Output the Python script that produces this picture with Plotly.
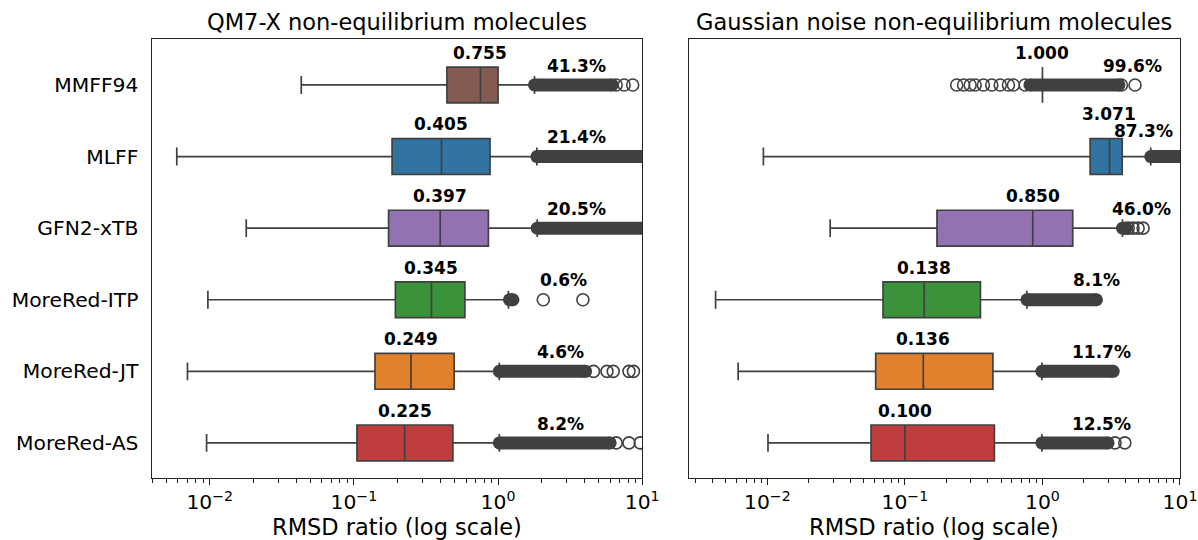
import math
import plotly.graph_objects as go

# ---------------- data ----------------
methods = ["MMFF94", "MLFF", "GFN2-xTB", "MoreRed-ITP", "MoreRed-JT", "MoreRed-AS"]
colors = ["#845b53", "#3274a1", "#9372b2", "#3a923a", "#e1812c", "#c03d3e"]

# QM7-X panel (left)
qm_low = [0.0431, 0.0059, 0.0179, 0.0097, 0.0070, 0.0095]
qm_q1 = [0.442, 0.184, 0.174, 0.194, 0.140, 0.105]
qm_med = [0.755, 0.405, 0.397, 0.345, 0.249, 0.225]
qm_q3 = [1.00, 0.88, 0.857, 0.589, 0.496, 0.486]
qm_high = [1.79, 1.86, 1.87, 1.18, 1.02, 1.02]
qm_pct = ["41.3%", "21.4%", "20.5%", "0.6%", "4.6%", "8.2%"]
qm_dense_lo = [1.79, 1.86, 1.87, 1.20, 1.02, 1.02]
qm_dense_hi = [6.2, 12.0, 12.0, 1.27, 4.05, 6.0]
qm_sparse = [
    [6.6, 7.5, 8.6],
    [],
    [],
    [2.06, 3.88],
    [4.6, 5.7, 6.3, 8.1, 8.7],
    [6.6, 8.1, 9.7],
]

# Gaussian noise panel (right)
gn_low = [1.0, 0.00935, 0.0286, 0.0042, 0.00613, 0.0101]
gn_q1 = [1.0, 2.22, 0.171, 0.0693, 0.0613, 0.0567]
gn_med = [1.000, 3.071, 0.850, 0.138, 0.136, 0.100]
gn_q3 = [1.0, 3.80, 1.66, 0.354, 0.436, 0.447]
gn_high = [1.0, 6.13, 3.82, 0.77, 0.99, 0.99]
gn_pct = ["99.6%", "87.3%", "46.0%", "8.1%", "11.7%", "12.5%"]
gn_dense_lo = [0.81, 6.13, 3.82, 0.77, 0.99, 0.99]
gn_dense_hi = [3.6, 12.0, 4.05, 2.47, 3.27, 3.0]
gn_sparse = [
    [0.238, 0.267, 0.298, 0.324, 0.372, 0.428, 0.493, 0.566, 0.615, 0.748, 3.75, 4.71],
    [],
    [4.2, 4.56, 4.96, 5.39],
    [],
    [],
    [3.37, 3.97],
]

# label anchor positions (x values where the percentage labels sit)
qm_pct_x = [3.48, 3.52, 3.52, 2.86, 2.73, 2.73]
gn_pct_x = [4.51, 5.42, 5.24, 2.47, 2.69, 2.69]

xticks = [0.01, 0.1, 1, 10]
xticktext = ["10<sup>\u22122</sup>", "10<sup>\u22121</sup>", "10<sup>0</sup>", "10<sup>1</sup>"]
xtitle = "RMSD ratio (log scale)"
titles = ["QM7-X non-equilibrium molecules", "Gaussian noise non-equilibrium molecules"]

# ---------------- figure ----------------
FONT = "DejaVu Sans"
EDGE = "#404040"
W, H = 1198, 540
WE = 1182  # effective drawing width observed in the viewer

fig = go.Figure()

panels = [
    dict(low=qm_low, q1=qm_q1, med=qm_med, q3=qm_q3, high=qm_high, pct=qm_pct,
         dlo=qm_dense_lo, dhi=qm_dense_hi, sparse=qm_sparse, pctx=qm_pct_x,
         xa="x", ya="y"),
    dict(low=gn_low, q1=gn_q1, med=gn_med, q3=gn_q3, high=gn_high, pct=gn_pct,
         dlo=gn_dense_lo, dhi=gn_dense_hi, sparse=gn_sparse, pctx=gn_pct_x,
         xa="x2", ya="y2"),
]

annotations = []
for pi, p in enumerate(panels):
    for i, m in enumerate(methods):
        # dense outlier band
        fig.add_trace(go.Scatter(
            x=[p["dlo"][i], p["dhi"][i]], y=[i, i], mode="lines+markers",
            line=dict(color=EDGE, width=13), marker=dict(size=13, color=EDGE),
            xaxis=p["xa"], yaxis=p["ya"], showlegend=False, hoverinfo="skip"))
        # sparse outliers
        if p["sparse"][i]:
            fig.add_trace(go.Scatter(
                x=p["sparse"][i], y=[i] * len(p["sparse"][i]), mode="markers",
                marker=dict(symbol="circle-open", size=12, color=EDGE,
                            line=dict(width=1.6, color=EDGE)),
                xaxis=p["xa"], yaxis=p["ya"], showlegend=False, hoverinfo="skip"))
        # box
        fig.add_trace(go.Box(
            y=[i], q1=[p["q1"][i]], median=[p["med"][i]], q3=[p["q3"][i]],
            lowerfence=[p["low"][i]], upperfence=[p["high"][i]],
            orientation="h", width=0.5, whiskerwidth=0.5,
            fillcolor=colors[i], line=dict(color=EDGE, width=1.7),
            boxpoints=False, xaxis=p["xa"], yaxis=p["ya"], showlegend=False,
            hoverinfo="skip"))
        # labels
        special = (pi == 1 and i == 1)
        med_dy = -0.59 if special else -0.45
        pct_dy = -0.36 if special else -0.27
        annotations.append(dict(
            x=math.log10(p["med"][i]), y=i + med_dy, xref=p["xa"], yref=p["ya"],
            text="<b>%.3f</b>" % p["med"][i], showarrow=False,
            font=dict(family=FONT, size=17, color="black"),
            xanchor="center", yanchor="middle"))
        annotations.append(dict(
            x=math.log10(p["pctx"][i]), y=i + pct_dy, xref=p["xa"], yref=p["ya"],
            text="<b>%s</b>" % p["pct"][i], showarrow=False,
            font=dict(family=FONT, size=17, color="black"),
            xanchor="center", yanchor="middle"))

# titles
for cx, t in zip([397, 935], titles):
    annotations.append(dict(x=cx / WE, y=1 - 22 / H, xref="paper", yref="paper",
                            text=t, showarrow=False, xanchor="center", yanchor="middle",
                            font=dict(family=FONT, size=22.5, color="black")))
    annotations.append(dict(x=cx / WE, y=1 - 527 / H, xref="paper", yref="paper",
                            text=xtitle, showarrow=False, xanchor="center", yanchor="middle",
                            font=dict(family=FONT, size=22.5, color="black")))

minor_vals = [k * 10 ** e for e in (-3, -2, -1, 0) for k in range(2, 10)]

def xaxis(domain, rng, anchor):
    return dict(type="log", domain=domain, range=rng, anchor=anchor,
                showgrid=False, zeroline=False,
                showline=True, linecolor="#222222", linewidth=1.2, mirror=True,
                ticks="outside", ticklen=6, tickwidth=1.1, tickcolor="#222222",
                tickvals=xticks, ticktext=xticktext,
                tickfont=dict(family=FONT, size=20.3, color="black"),
                minor=dict(tickvals=minor_vals, ticks="outside", ticklen=3.5,
                           tickwidth=0.9, tickcolor="#222222", showgrid=False))

yrange = [5.49, -0.642]
fig.update_layout(
    width=W, height=H, autosize=False, margin=dict(l=0, r=0, t=0, b=0, pad=0),
    paper_bgcolor="white", plot_bgcolor="white",
    font=dict(family=FONT, color="black"),
    xaxis=xaxis([151.7 / WE, 642.7 / WE], [-2.404, 1.0], "y"),
    xaxis2=xaxis([690 / WE, 1181 / WE], [-2.567, 1.0], "y2"),
    yaxis=dict(domain=[1 - 478 / H, 1 - 39 / H], range=yrange, showgrid=False,
               zeroline=False, showline=True, linecolor="#222222", linewidth=1.2,
               mirror=True, tickvals=list(range(len(methods))), ticktext=methods,
               ticks="", ticklabelstandoff=8, anchor="x",
               tickfont=dict(family=FONT, size=20.3, color="black")),
    yaxis2=dict(domain=[1 - 478 / H, 1 - 39 / H], range=yrange, showgrid=False,
                zeroline=False, showline=True, linecolor="#222222", linewidth=1.2,
                mirror=True, showticklabels=False, ticks="", anchor="x2"),
    annotations=annotations,
)

fig.write_html("out.html", config={"responsive": False})
